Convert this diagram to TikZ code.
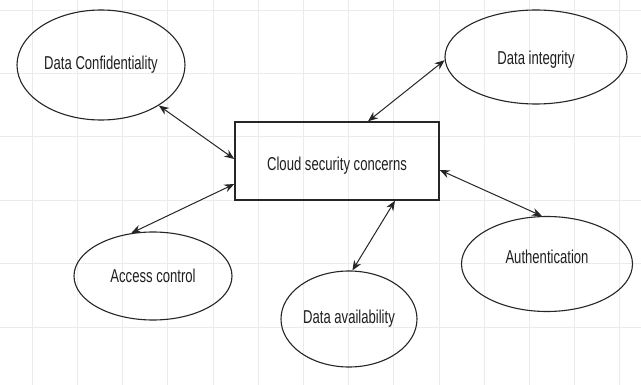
\documentclass[tikz,border=0pt]{standalone}
\usepackage{fontspec}
\usepackage{graphicx}
\setmainfont{Liberation Sans}
\usetikzlibrary{shapes.geometric,arrows.meta,calc}
\newcommand\tallText[1]{\scalebox{0.97}[1.38]{#1}}
\tikzset{
  txt/.style={font=\fontsize{13.5}{16}\selectfont, text=black!88},
  bubble/.style={ellipse, draw=black!85, line width=1.1pt, inner sep=0pt, txt},
  box/.style={rectangle, draw=black!85, line width=1.4pt, inner sep=0pt,
    minimum width=204pt, minimum height=78pt, txt},
  link/.style={{Stealth[length=10pt,width=8pt]}-{Stealth[length=10pt,width=8pt]},
    line width=1pt, draw=black!85},
  gridline/.style={draw=black!8, line width=0.6pt}
}
\begin{document}
\begin{tikzpicture}[x=1pt,y=-1pt]
\useasboundingbox (0,0) rectangle (641,385);
\fill[white] (0,0) rectangle (641,385);
\foreach \i in {0,...,13} \draw[gridline] ({32+45.2*\i},0) -- ({32+45.2*\i},385);
\foreach \j in {0,...,5} \draw[gridline] (0,{10+63.4*\j}) -- (641,{10+63.4*\j});

\node[bubble, minimum width=168pt, minimum height=110pt] (dc) at (101,65) {\tallText{Data Confidentiality}};
\node[bubble, minimum width=182pt, minimum height=94pt,
  label={[txt, yshift=-3pt]center:\tallText{Data integrity}}] (di) at (536,57) {};
\node[box, label={[txt, yshift=-5pt]center:\tallText{Cloud security concerns}}] (cc) at (337,161) {};
\node[bubble, minimum width=158pt, minimum height=88pt] (ac) at (153,276) {\tallText{Access control}};
\node[bubble, minimum width=136pt, minimum height=96pt] (da) at (349,319) {\tallText{Data availability}};
\node[bubble, minimum width=171pt, minimum height=95pt,
  label={[txt, yshift=7pt]center:\tallText{Authentication}}] (au) at (547,264) {};

\draw[link] (dc.-35) -- ([yshift=2pt]cc.west);
\draw[link] ([yshift=-23pt]cc.west) -- (ac.117);
\draw[link] ([xshift=31pt]cc.north) -- (di.182);
\draw[link] ([xshift=58pt]cc.south) -- (da.86);
\draw[link] ([yshift=-9pt]cc.east) -- (au.96);
\end{tikzpicture}
\end{document}
